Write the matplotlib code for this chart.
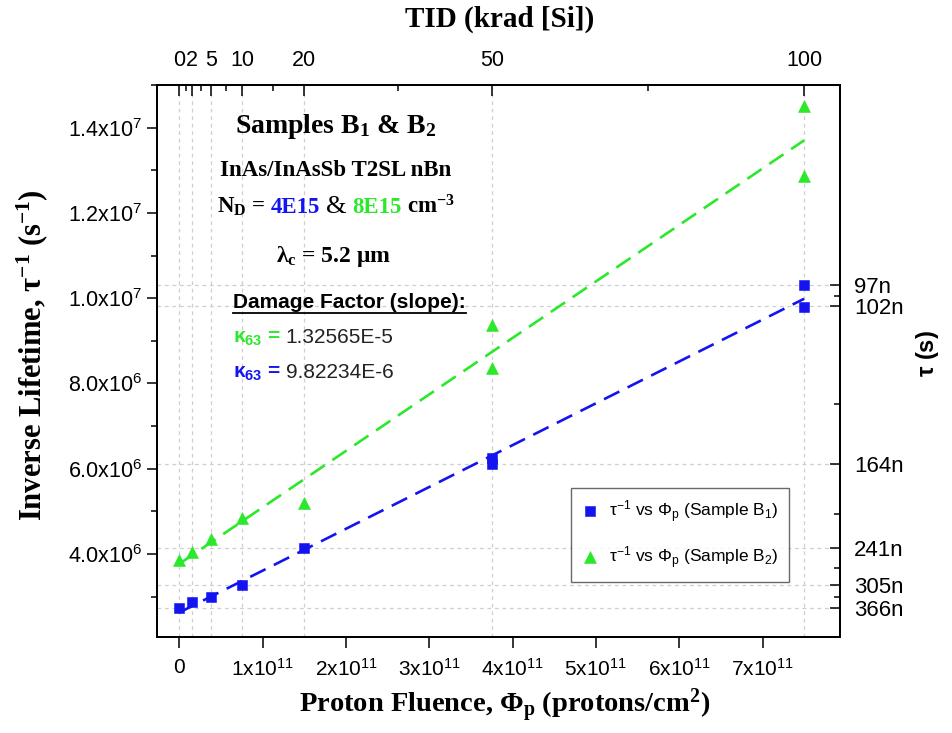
import numpy as np
import matplotlib
matplotlib.use("Agg")
import matplotlib.pyplot as plt
from matplotlib.lines import Line2D

plt.rcParams['font.family'] = ['Liberation Sans', 'DejaVu Sans']
plt.rcParams['mathtext.default'] = 'regular'

# ---------------- data ----------------
tid_krad = [0, 2, 5, 10, 20, 50, 100]
tid_minor = [1, 3.5, 7.5, 15, 35, 75]
fluence = [0, 1.5e10, 3.75e10, 7.5e10, 1.5e11, 3.75e11, 3.75e11, 7.5e11, 7.5e11]
inv_tau_b1 = [2.73e6, 2.875e6, 2.98e6, 3.27e6, 4.13e6, 6.26e6, 6.10e6, 1.030e7, 9.80e6]
inv_tau_b2 = [3.85e6, 4.05e6, 4.35e6, 4.84e6, 5.20e6, 9.38e6, 8.36e6, 1.451e7, 1.286e7]
kappa_b2 = "1.32565E-5"
kappa_b1 = "9.82234E-6"
tau_ticks_ns = [97, 102, 164, 241, 305, 366]
tau_minor_ns = [99.5, 133, 202.5, 273, 335.5]
x_ticks = [0, 1e11, 2e11, 3e11, 4e11, 5e11, 6e11, 7e11]
y_ticks = [4e6, 6e6, 8e6, 1.0e7, 1.2e7, 1.4e7]
y_minor = [3e6, 5e6, 7e6, 9e6, 1.1e7, 1.3e7, 1.5e7]

BLUE = '#1414f0'
GREEN = '#2be82b'
SERIF = ['Liberation Serif', 'DejaVu Serif']
SANS = ['Liberation Sans', 'DejaVu Sans']

W, H = 953, 733
fig = plt.figure(figsize=(W / 100, H / 100), dpi=100)
ax = fig.add_axes([157 / W, 1 - 637 / H, (840 - 157) / W, (637 - 85) / H])
xlim = (-0.27e11, 7.93e11)
ylim = (2.05e6, 1.5e7)
ax.set_xlim(*xlim)
ax.set_ylim(*ylim)

conv = fluence[-1] / tid_krad[-1]

# grid lines at TID positions and tau ticks
grid_kw = dict(color='#cfcfcf', lw=0.9, ls=(0, (3, 3)), zorder=0)
for t in tid_krad:
    ax.axvline(t * conv, **grid_kw)
for tn in tau_ticks_ns:
    ax.axhline(1e9 / tn, **grid_kw)

# linear fits
fx = np.array(fluence)
xs = np.array([fx.min(), fx.max()])
p1 = np.polyfit(fx, inv_tau_b1, 1)
p2 = np.polyfit(fx, inv_tau_b2, 1)
ax.plot(xs, np.polyval(p2, xs), color=GREEN, lw=1.9, ls=(0, (6.5, 3.5)), zorder=2)
ax.plot(xs, np.polyval(p1, xs), color=BLUE, lw=1.9, ls=(0, (6.5, 3.5)), zorder=2)

h1, = ax.plot(fluence, inv_tau_b1, 's', color=BLUE, ms=7.3, mec=BLUE, mew=0.4, zorder=3,
              label=r'$\tau^{-1}$ vs $\Phi_p$ (Sample B$_1$)')
h2, = ax.plot(fluence, inv_tau_b2, '^', color=GREEN, ms=8.5, mec=GREEN, mew=0.4, zorder=3,
              label=r'$\tau^{-1}$ vs $\Phi_p$ (Sample B$_2$)')

def ylab(v):
    e = int(np.floor(np.log10(v)))
    return f"{v / 10**e:.1f}x10$^{{{e}}}$"

def xlab(v):
    if v == 0:
        return "0"
    e = int(np.floor(np.log10(v)))
    return f"{v / 10**e:.0f}x10$^{{{e}}}$"

ax.set_xticks(x_ticks)
ax.set_xticklabels([xlab(v) for v in x_ticks])
ax.set_yticks(y_ticks)
ax.set_yticklabels([ylab(v) for v in y_ticks])
ax.set_yticks(y_minor, minor=True)
ax.tick_params(axis='x', which='major', direction='out', length=8, width=1.1, labelsize=15, pad=7)
ax.tick_params(axis='y', which='major', direction='out', length=7.5, width=1.1, labelsize=15.5, pad=3)
ax.tick_params(axis='y', which='minor', direction='out', length=4.5, width=1.1)
for s in ax.spines.values():
    s.set_linewidth(1.3)

leg = ax.legend(handles=[h1, h2], loc='lower right', bbox_to_anchor=(0.925, 0.1),
                fontsize=12.5, frameon=True, fancybox=False, edgecolor='#444444',
                handlelength=1.0, handletextpad=0.6, labelspacing=1.15,
                borderpad=0.6, borderaxespad=0)
leg.get_frame().set_linewidth(1.0)

# top axis (TID)
axt = ax.twiny()
axt.set_xlim(*xlim)
axt.set_xticks([t * conv for t in tid_krad])
axt.set_xticklabels([str(t) for t in tid_krad])
axt.set_xticks([t * conv for t in tid_minor], minor=True)
axt.tick_params(axis='x', which='major', direction='in', length=8, width=1.1, labelsize=15.5, pad=10)
axt.tick_params(axis='x', which='minor', direction='in', length=4.5, width=1.1)

# right axis (tau)
axr = ax.twinx()
axr.set_ylim(*ylim)
axr.set_yticks([1e9 / t for t in tau_ticks_ns])
axr.set_yticklabels([f"{t}n" for t in tau_ticks_ns])
axr.set_yticks([1e9 / t for t in tau_minor_ns], minor=True)
axr.tick_params(axis='y', which='major', direction='in', length=7.5, width=1.1, labelsize=16, pad=10)
axr.tick_params(axis='y', which='minor', direction='in', length=4.5, width=1.1)
for a in (axt, axr):
    for s in a.spines.values():
        s.set_linewidth(1.3)

# axis labels
fig.text(500 / W, 1 - 27 / H, "TID (krad [Si])", ha='center', va='baseline',
         fontsize=21, fontweight='bold', family=SERIF)
fig.text(505 / W, 1 - 713 / H, r"Proton Fluence, $\Phi_p$ (protons/cm$^2$)", ha='center',
         va='baseline', fontsize=20.5, fontweight='bold', family=SERIF)
fig.text(32 / W, 1 - 355 / H, r"Inverse Lifetime, $\tau^{-1}$ (s$^{-1}$)", ha='center',
         va='center', rotation=90, fontsize=22, fontweight='bold', family=SERIF)
fig.text(928 / W, 1 - 354 / H, r"$\tau$ (s)", ha='center', va='center', rotation=90,
         fontsize=17, fontweight='bold', family=SANS)

# annotations
fig.canvas.draw()
renderer = fig.canvas.get_renderer()

def rich(pieces, x_px, y_px, ha='left'):
    texts, widths = [], []
    for s, kw, gap in pieces:
        t = fig.text(0, 0, s, ha='left', va='baseline', **kw)
        texts.append(t)
        widths.append(t.get_window_extent(renderer).width + gap)
    total = sum(widths) - pieces[-1][2]
    x0 = x_px - total / 2 if ha == 'center' else x_px
    for t, w in zip(texts, widths):
        t.set_position((x0 / W, 1 - y_px / H))
        x0 += w
    return texts

bs = dict(fontweight='bold', family=SERIF)
fig.text(336 / W, 1 - 133 / H, r"Samples B$_1$ & B$_2$", ha='center', va='baseline',
         fontsize=20, **bs)
fig.text(336 / W, 1 - 176 / H, "InAs/InAsSb T2SL nBn", ha='center', va='baseline',
         fontsize=16.5, **bs)
rich([(r"N$_D$ =", dict(fontsize=16.5, color='black', **bs), 5),
      ("4E15", dict(fontsize=16.5, color=BLUE, **bs), 6),
      ("&", dict(fontsize=19, color='black', family=SERIF), 6),
      ("8E15", dict(fontsize=16.5, color=GREEN, **bs), 5),
      (r"cm$^{-3}$", dict(fontsize=16.5, color='black', **bs), 0)],
     336, 213, ha='center')
fig.text(334 / W, 1 - 262 / H, r"$\lambda_c$ = 5.2 μm", ha='center', va='baseline',
         fontsize=17, **bs)

dm = fig.text(233 / W, 1 - 308 / H, "Damage Factor (slope):", ha='left', va='baseline',
              fontsize=15, fontweight='bold', family=SANS)
bb = dm.get_window_extent(renderer)
yl = (H - 308 - 4.5) / H
fig.add_artist(Line2D([bb.x0 / W, bb.x1 / W], [yl, yl], transform=fig.transFigure,
                      color='black', lw=1.3))

rich([(r"$\kappa_{63}$ =", dict(fontsize=15, color=GREEN, fontweight='bold', family=SANS), 5),
      (kappa_b2, dict(fontsize=15, color='#222222', family=SANS), 0)], 233, 343)
rich([(r"$\kappa_{63}$ =", dict(fontsize=15, color=BLUE, fontweight='bold', family=SANS), 5),
      (kappa_b1, dict(fontsize=15, color='#222222', family=SANS), 0)], 233, 378)

fig.savefig("out.png", dpi=100)
